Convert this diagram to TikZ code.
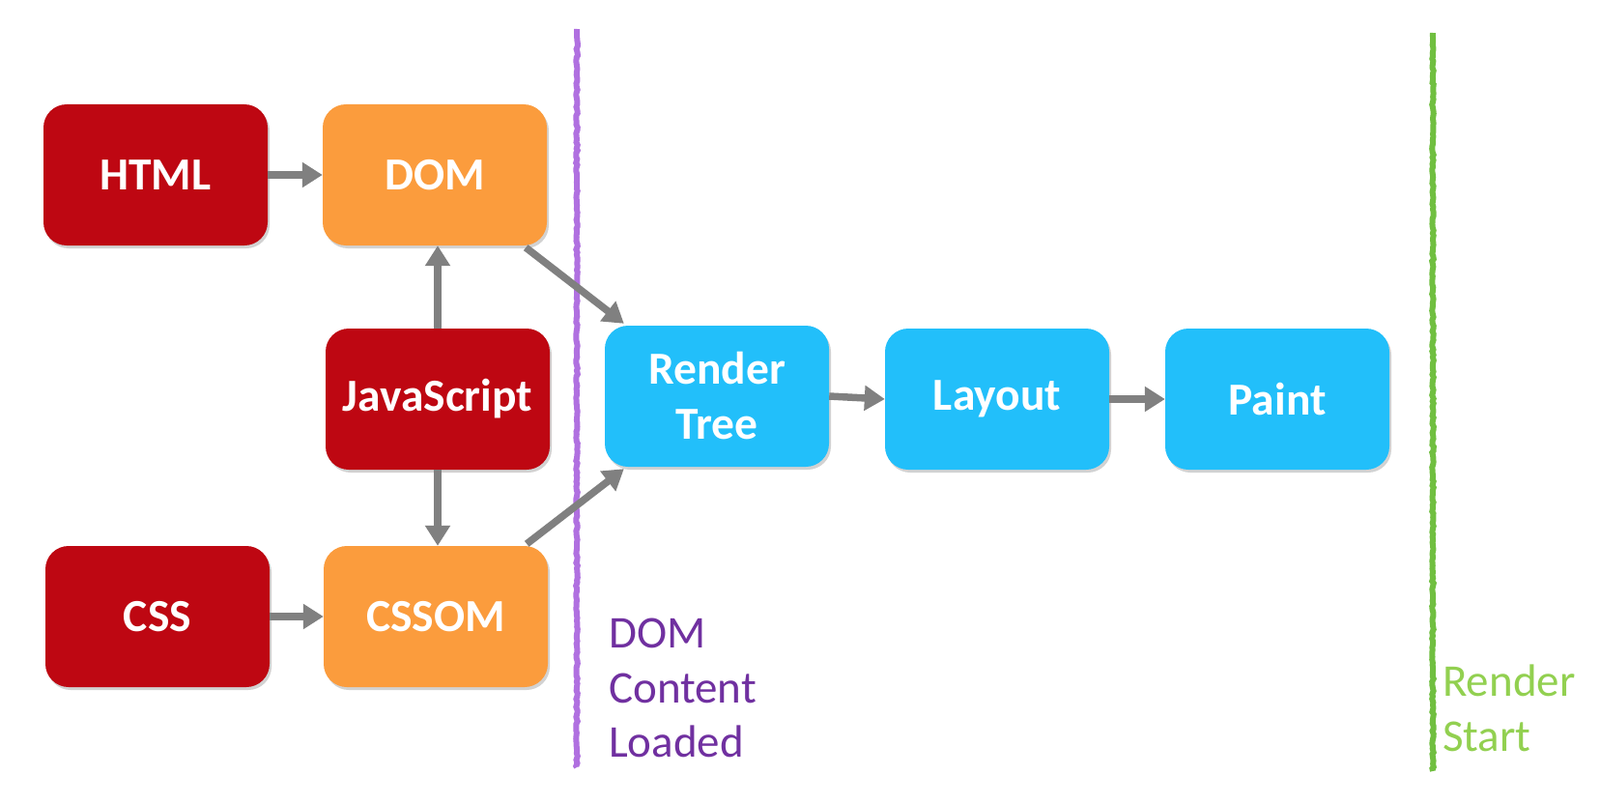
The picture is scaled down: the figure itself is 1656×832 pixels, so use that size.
\documentclass[tikz,border=0pt]{standalone}
\usepackage{fontspec}
\setmainfont{Carlito}
\usetikzlibrary{arrows.meta,shadows,decorations.pathmorphing}
\definecolor{boxred}{HTML}{BE0712}
\definecolor{boxorange}{HTML}{FB9C3D}
\definecolor{boxblue}{HTML}{22BFFA}
\definecolor{arrgray}{HTML}{808080}
\definecolor{linepurple}{HTML}{B070E0}
\definecolor{textpurple}{HTML}{7030A0}
\definecolor{linegreen}{HTML}{70BF40}
\definecolor{textgreen}{HTML}{92D050}
\tikzset{
  box/.style={rounded corners=24pt, minimum width=232pt, minimum height=146pt,
    text=white, font=\fontsize{47.5}{57}\selectfont\bfseries, align=center, inner sep=0pt,
    drop shadow={shadow xshift=2pt, shadow yshift=-3pt, opacity=0.35}},
  redbox/.style={box, fill=boxred},
  orangebox/.style={box, fill=boxorange},
  bluebox/.style={box, fill=boxblue},
  conn/.style={draw=arrgray, line width=7.5pt, -{Triangle[length=21pt,width=25pt]}, shorten >=0pt},
  marker/.style={line width=6pt, decorate, decoration={random steps, segment length=3pt, amplitude=0.8pt}},
  milestone/.style={anchor=north west, align=left, inner sep=0pt, font=\fontsize{47}{56.5}\selectfont}
}
\begin{document}
\begin{tikzpicture}[x=1pt,y=-1pt]
\useasboundingbox (0,0) rectangle (1656,832);
\fill[white] (0,0) rectangle (1656,832);
% milestone lines
\coordinate (pt) at (597,30);
\coordinate (pb) at (597,794);
\coordinate (gt) at (1483,34);
\coordinate (gb) at (1483,798);
\draw[marker, draw=linepurple] (pt) -- (pb);
\draw[marker, draw=linegreen] (gt) -- (gb);
% boxes
\node[redbox] (html) at (161,181) {HTML};
\node[orangebox] (dom) at (450,181) {DOM};
\node[redbox] (js) at (453,413) {JavaScript};
\node[redbox] (css) at (163,638) {CSS};
\node[orangebox] (cssom) at (451,638) {CSSOM};
\node[bluebox] (rt) at (742,410) {Render\\Tree};
\node[bluebox] (layout) at (1032,413) {Layout};
\node[bluebox] (paint) at (1322,413) {Paint};
% connectors
\draw[conn] (html.east) -- (dom.west);
\draw[conn] (css.east) -- (cssom.west);
\draw[conn] (js.north) -- (js.north |- dom.south);
\draw[conn] (js.south) -- (js.south |- cssom.north);
\draw[conn] ([xshift=-22pt,yshift=-2pt]dom.south east) -- ([xshift=20pt,yshift=2pt]rt.north west);
\draw[conn] ([xshift=-22pt,yshift=2pt]cssom.north east) -- ([xshift=20pt,yshift=-2pt]rt.south west);
\draw[conn] (rt.east) -- (layout.west);
\draw[conn] (layout.east) -- (paint.west);
% labels
\node[milestone, text=textpurple] (dcl) at (630,640) {DOM\\Content\\Loaded};
\node[milestone, text=textgreen] (rs) at (1493,688) {Render\\Start};
\end{tikzpicture}
\end{document}
